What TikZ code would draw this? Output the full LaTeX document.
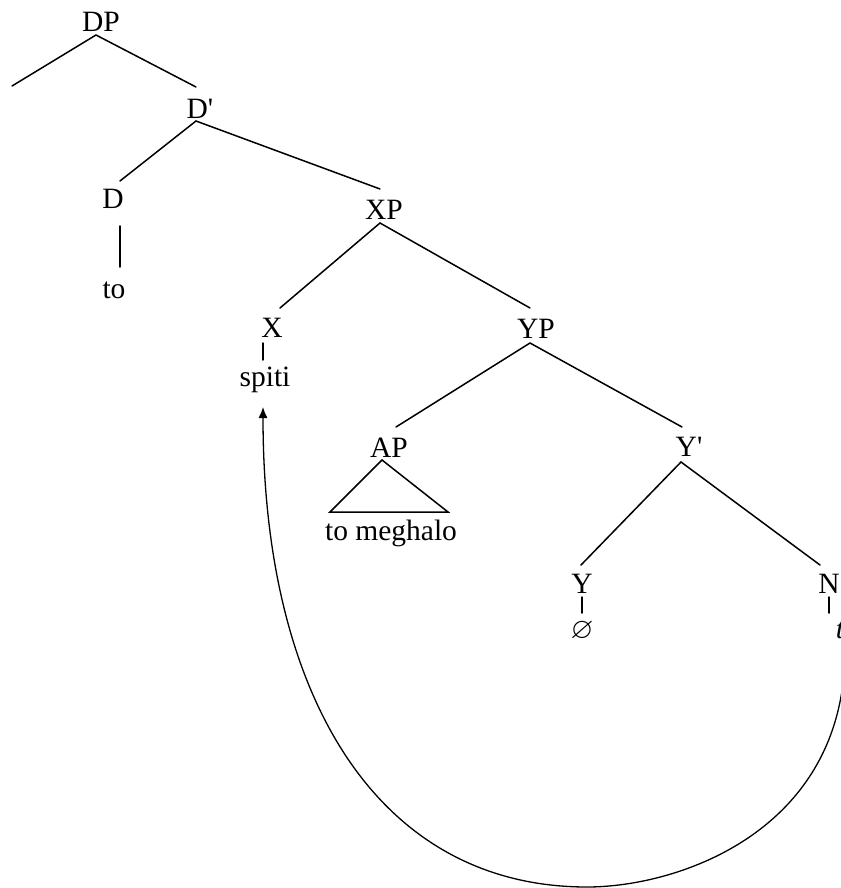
\documentclass[tikz,border=0pt]{standalone}
\usepackage{fontspec}
\usepackage{amssymb}
\newfontfamily\tnr{Liberation Serif}
\usetikzlibrary{arrows.meta}
\begin{document}
\begin{tikzpicture}[x=1pt,y=-1pt,
  lbl/.style={font=\tnr\fontsize{29.5}{34}\selectfont, inner sep=0pt, outer sep=0pt,
              anchor=base, text height=20pt, text depth=0pt},
  br/.style={line width=1.5pt, line cap=round},
  move/.style={line width=1.3pt, -{Latex[length=11pt,width=9pt]}}]
\useasboundingbox (0,0) rectangle (840,888);
% nodes
\node[lbl] (DP) at (101,32) {DP};
\node[lbl] (Db) at (200,118) {D'};
\node[lbl] (D) at (113,208) {D};
\node[lbl] (to) at (114,298) {to};
\node[lbl] (XP) at (384,219) {XP};
\node[lbl] (X) at (272,337) {X};
\node[lbl] (spiti) at (265,386) {spiti};
\node[lbl] (YP) at (536,338) {YP};
\node[lbl] (AP) at (389,457) {AP};
\node[lbl] (Yb) at (689,456) {Y'};
\node[lbl] (tomeg) at (391,540) {to meghalo};
\node[lbl] (Y) at (582,593) {Y};
\node[lbl] (N) at (829,593) {N};
\node[lbl] (null) at (582,638) {$\varnothing$};
\node[lbl] (t) at (840,638) {\itshape t};
\coordinate (spec) at (12,86);
% branches
\draw[br] (spec) -- ([shift={(-5,3)}]DP.south) -- ([shift={(-4,-11)}]Db.north);
\draw[br] ([shift={(7,-7)}]D.north) -- ([shift={(-4,3)}]Db.south) -- ([shift={(-4,-10)}]XP.north);
\draw[br] ([shift={(7,18)}]D.south) -- ([shift={(6,-11)}]to.north);
\draw[br] ([shift={(8,-9)}]X.north) -- ([shift={(-4,4)}]XP.south) -- ([shift={(-6,-10)}]YP.north);
\draw[br] ([shift={(-9,6)}]X.south) -- ([shift={(-2,-6)}]spiti.north);
\draw[br] ([shift={(7,-10)}]AP.north) -- ([shift={(-6,5)}]YP.south) -- ([shift={(-7,-9)}]Yb.north);
\draw[br, line join=miter] ([shift={(-7,3)}]AP.south) -- ([shift={(-61,-8)}]tomeg.north) -- ([shift={(57,-8)}]tomeg.north) -- cycle;
\draw[br] ([shift={(-1,-8)}]Y.north) -- ([shift={(-8,6)}]Yb.south) -- ([shift={(-9,-8)}]N.north);
\draw[br] ([shift={(0,4)}]Y.south) -- ([shift={(0,-5)}]null.north);
\draw[br] ([shift={(0,4)}]N.south) -- ([shift={(-11,-5)}]t.north);
% movement arrow
\draw[move] ([shift={(5,12)}]t.south) .. controls (845,830) and (680,887) .. (587,887)
  .. controls (380,887) and (263,700) .. ([shift={(-2,21)}]spiti.south);
\end{tikzpicture}
\end{document}
